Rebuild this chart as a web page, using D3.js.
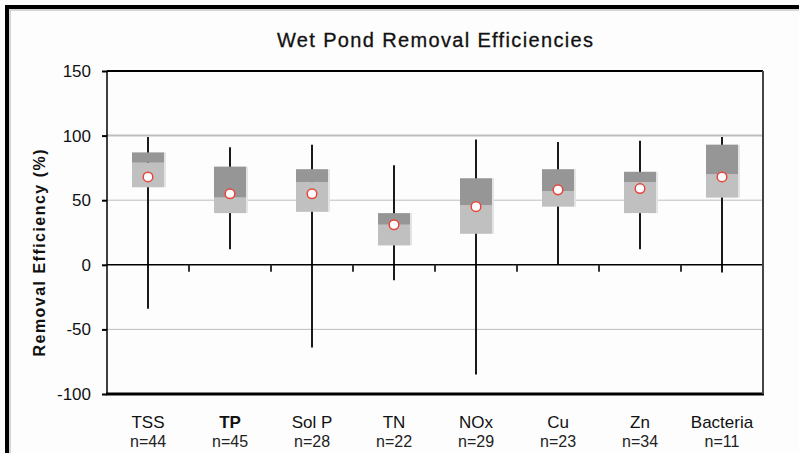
<!DOCTYPE html>
<html>
<head>
<meta charset="utf-8">
<script src="https://cdn.jsdelivr.net/npm/d3@7"></script>
<style>
  body { margin: 0; background: #fff; }
  svg { display: block; font-family: Arial, "Liberation Sans", sans-serif; }
</style>
</head>
<body>
<svg width="799" height="453"></svg>
<script>
// chart data
var categories = ["TSS", "TP", "Sol P", "TN", "NOx", "Cu", "Zn", "Bacteria"];
var nCounts = [44, 45, 28, 22, 29, 23, 34, 11];
var whiskerMin = [-34, 12, -64, -12, -85, 0, 12, -6];
var q1 = [60, 40, 41, 15, 24, 45, 40, 52];
var median = [79, 52, 64, 31, 46, 57, 64, 70];
var q3 = [87, 76, 74, 40, 67, 74, 72, 93];
var whiskerMax = [99, 91, 93, 77, 97, 95, 96, 99];
var means = [68, 55, 55, 31, 45, 58, 59, 68];
var yTicks = [-100, -50, 0, 50, 100, 150];
var gridValues = [100, 50, -50];

var svg = d3.select("svg"),
  width = +svg.attr("width"),
  height = +svg.attr("height");

var plot = { left: 107, right: 763, top: 71, bottom: 394 };

var x = d3.scaleBand().domain(categories).range([plot.left, plot.right]);
var y = d3.scaleLinear().domain([-100, 150]).range([plot.bottom, plot.top]);

var rows = categories.map(function (c, i) {
  return { cat: c, n: nCounts[i], lo: whiskerMin[i], q1: q1[i], med: median[i],
    q3: q3[i], hi: whiskerMax[i], mean: means[i] };
});

// outer frame
svg.append("rect").attr("x", 0).attr("y", 0).attr("width", width).attr("height", height).attr("fill", "#fdfdfd");
svg.append("rect").attr("x", 7).attr("y", 7).attr("width", width + 20).attr("height", height + 20)
  .attr("fill", "none").attr("stroke", "#000").attr("stroke-width", 4);
svg.append("rect").attr("x", 10).attr("y", 10).attr("width", width + 20).attr("height", height + 20)
  .attr("fill", "none").attr("stroke", "#c8c8c8").attr("stroke-width", 1.5);

// title
svg.append("text")
  .attr("x", 435).attr("y", 47)
  .attr("text-anchor", "middle")
  .attr("font-size", 20)
  .attr("textLength", 316)
  .attr("fill", "#111")
  .attr("stroke", "#111").attr("stroke-width", 0.3)
  .text("Wet Pond Removal Efficiencies");

// y label
svg.append("text")
  .attr("transform", "translate(45,253) rotate(-90)")
  .attr("text-anchor", "middle")
  .attr("font-size", 16)
  .attr("font-weight", "bold")
  .attr("textLength", 207)
  .attr("fill", "#111")
  .text("Removal Efficiency (%)");

// grid lines
svg.append("g").selectAll("line")
  .data(gridValues)
  .enter().append("line")
  .attr("x1", plot.left).attr("x2", plot.right)
  .attr("y1", function (d) { return y(d); })
  .attr("y2", function (d) { return y(d); })
  .attr("stroke", "#bdbdbd")
  .attr("stroke-width", function (d) { return d === 100 ? 2 : 1; });

// y axis
var yAxis = svg.append("g")
  .attr("transform", "translate(" + plot.left + ",0)")
  .call(d3.axisLeft(y).tickValues(yTicks).tickSize(5).tickPadding(11)
    .tickFormat(function (d) { return String(d); }));
yAxis.select(".domain").remove();
yAxis.selectAll(".tick line").attr("stroke", "#000").attr("stroke-width", 2);
yAxis.selectAll(".tick text").attr("font-size", 17).attr("fill", "#111")
  .attr("font-family", "Arial, 'Liberation Sans', sans-serif");

// whiskers
svg.append("g").selectAll("line")
  .data(rows)
  .enter().append("line")
  .attr("x1", function (d) { return x(d.cat) + x.bandwidth() / 2; })
  .attr("x2", function (d) { return x(d.cat) + x.bandwidth() / 2; })
  .attr("y1", function (d) { return y(d.hi); })
  .attr("y2", function (d) { return y(d.lo); })
  .attr("stroke", "#1a1a1a")
  .attr("stroke-width", 2);

// boxes
var boxW = 32;
var boxes = svg.append("g").selectAll("g")
  .data(rows)
  .enter().append("g")
  .attr("transform", function (d) { return "translate(" + (x(d.cat) + x.bandwidth() / 2 - boxW / 2) + ",0)"; });

boxes.append("rect") // light edge
  .attr("x", boxW).attr("width", 2)
  .attr("y", function (d) { return y(d.q3); })
  .attr("height", function (d) { return y(d.q1) - y(d.q3); })
  .attr("fill", "#e4e4e4");
boxes.append("rect") // lower part
  .attr("width", boxW)
  .attr("y", function (d) { return y(d.med); })
  .attr("height", function (d) { return y(d.q1) - y(d.med); })
  .attr("fill", "#c0c0c0");
boxes.append("rect") // upper part
  .attr("width", boxW)
  .attr("y", function (d) { return y(d.q3); })
  .attr("height", function (d) { return y(d.med) - y(d.q3); })
  .attr("fill", "#969696");

// mean markers
svg.append("g").selectAll("circle")
  .data(rows)
  .enter().append("circle")
  .attr("cx", function (d) { return x(d.cat) + x.bandwidth() / 2; })
  .attr("cy", function (d) { return y(d.mean); })
  .attr("r", 4.8)
  .attr("fill", "#fff")
  .attr("stroke", "#e8453c")
  .attr("stroke-width", 1.5);

// zero line and band ticks
svg.append("line")
  .attr("x1", plot.left).attr("x2", plot.right)
  .attr("y1", y(0)).attr("y2", y(0))
  .attr("stroke", "#000").attr("stroke-width", 1.5);
svg.append("g").selectAll("line")
  .data(categories.slice(1))
  .enter().append("line")
  .attr("x1", function (d) { return x(d); })
  .attr("x2", function (d) { return x(d); })
  .attr("y1", y(0)).attr("y2", y(0) + 7)
  .attr("stroke", "#333").attr("stroke-width", 2);

// plot border
svg.append("line").attr("x1", plot.left).attr("x2", plot.right).attr("y1", plot.top).attr("y2", plot.top)
  .attr("stroke", "#000").attr("stroke-width", 2);
svg.append("line").attr("x1", plot.left - 1).attr("x2", plot.right + 1).attr("y1", plot.bottom).attr("y2", plot.bottom)
  .attr("stroke", "#000").attr("stroke-width", 3);
svg.append("line").attr("x1", plot.left).attr("x2", plot.left).attr("y1", plot.top).attr("y2", plot.bottom)
  .attr("stroke", "#000").attr("stroke-width", 1.5);
svg.append("line").attr("x1", plot.right).attr("x2", plot.right).attr("y1", plot.top).attr("y2", plot.bottom)
  .attr("stroke", "#444").attr("stroke-width", 2);

// category labels
var labels = svg.append("g").selectAll("g")
  .data(rows)
  .enter().append("g")
  .attr("transform", function (d) { return "translate(" + (x(d.cat) + x.bandwidth() / 2) + ",0)"; });
labels.append("text")
  .attr("y", 428)
  .attr("text-anchor", "middle")
  .attr("font-size", 17)
  .attr("font-weight", function (d) { return d.cat === "TP" ? "bold" : "normal"; })
  .attr("fill", "#111")
  .text(function (d) { return d.cat; });
labels.append("text")
  .attr("y", 447)
  .attr("text-anchor", "middle")
  .attr("font-size", 16)
  .attr("fill", "#222")
  .text(function (d) { return "n=" + d.n; });
</script>
</body>
</html>
